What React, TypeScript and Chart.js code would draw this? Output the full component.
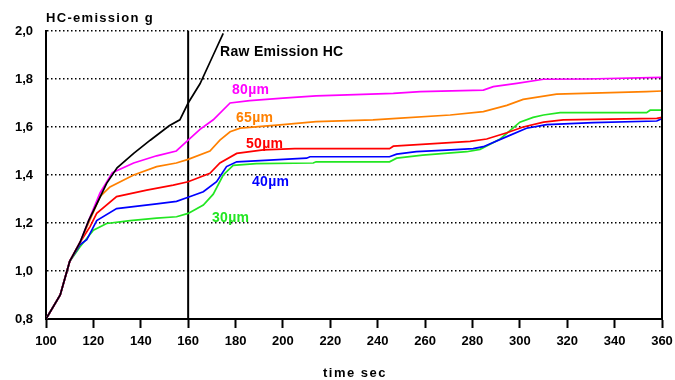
import React, { useEffect, useRef } from "react";
import { Chart, registerables } from "chart.js";

Chart.register(...registerables);

const rawX = [100, 106, 110, 114.4, 118, 120, 125.6, 130, 137, 144, 152, 156.5, 160, 165, 170.6, 174.8];
const rawY = [0.8, 0.9, 1.04, 1.12, 1.21, 1.25, 1.365, 1.43, 1.49, 1.545, 1.605, 1.63, 1.7, 1.78, 1.9, 1.99];

const m80X = [100, 106, 110, 114.4, 118, 122.8, 128, 137, 146.7, 155, 160, 165, 170.6, 177.7, 186, 200, 214, 224, 246.6, 258, 284.6, 288.8, 298.7, 310, 328, 360];
const m80Y = [0.8, 0.9, 1.04, 1.12, 1.21, 1.325, 1.41, 1.45, 1.48, 1.5, 1.545, 1.59, 1.63, 1.7, 1.71, 1.72, 1.73, 1.733, 1.74, 1.747, 1.754, 1.768, 1.782, 1.799, 1.8, 1.807];

const m65X = [100, 106, 110, 114.4, 118, 122.8, 127, 137, 146.7, 155, 160, 169.2, 173.4, 177.7, 182, 200, 214, 238, 248, 270.6, 284.6, 294.5, 301.4, 315.5, 353.5, 360];
const m65Y = [0.8, 0.9, 1.04, 1.12, 1.2, 1.31, 1.35, 1.4, 1.435, 1.45, 1.465, 1.5, 1.545, 1.58, 1.595, 1.61, 1.622, 1.63, 1.636, 1.65, 1.664, 1.69, 1.715, 1.737, 1.747, 1.75];

const m50X = [100, 106, 110, 114.4, 118.6, 121.4, 129.8, 142.5, 153.7, 160, 169.2, 173.4, 180.5, 191.7, 205, 224, 245, 246.6, 262, 279, 286, 294.5, 301.4, 310, 318.3, 357.8, 360];
const m50Y = [0.8, 0.9, 1.04, 1.12, 1.185, 1.24, 1.31, 1.337, 1.358, 1.372, 1.407, 1.45, 1.49, 1.505, 1.51, 1.51, 1.51, 1.52, 1.53, 1.54, 1.55, 1.576, 1.6, 1.62, 1.63, 1.636, 1.64];

const m40X = [100, 106, 110, 114.4, 117.2, 121.4, 129.8, 146.7, 155.1, 160, 166.4, 172, 176.2, 180.5, 210, 211.4, 245, 248, 256.3, 269, 280.3, 284.6, 294.5, 302.8, 311.3, 331, 357.8, 360];
const m40Y = [0.8, 0.9, 1.04, 1.11, 1.13, 1.21, 1.26, 1.28, 1.29, 1.307, 1.33, 1.372, 1.435, 1.455, 1.47, 1.476, 1.476, 1.487, 1.497, 1.504, 1.51, 1.518, 1.56, 1.595, 1.61, 1.618, 1.625, 1.635];

const m30X = [100, 106, 110, 114.3, 120, 125.6, 135.5, 146.7, 155.1, 160, 166.4, 170.6, 174.8, 179, 188.8, 212.8, 214, 245, 248, 259, 277.6, 283.2, 291.7, 300, 305.6, 310, 317, 353.5, 355, 360];
const m30Y = [0.8, 0.9, 1.04, 1.1, 1.17, 1.198, 1.21, 1.22, 1.226, 1.24, 1.275, 1.32, 1.4, 1.44, 1.447, 1.45, 1.455, 1.455, 1.47, 1.483, 1.497, 1.507, 1.55, 1.62, 1.64, 1.65, 1.66, 1.66, 1.67, 1.67];

const markerX = [160, 160];
const markerY = [0.8, 2.0];

const seriesNames = ["Raw Emission HC", "80µm", "65µm", "50µm", "40µm", "30µm"];
const seriesColors = ["#000000", "#FF00FF", "#FF8000", "#FF0000", "#0000FF", "#22E622"];
const labelPos = [
  [220, 56],
  [232, 94],
  [236, 122],
  [246, 148],
  [252, 186],
  [212, 222],
];

const yTitle = "HC-emission g";
const xTitle = "time sec";

const pts = (xs: number[], ys: number[]) => xs.map((x, i) => ({ x, y: ys[i] }));

const FONT = "'Liberation Sans', Arial, sans-serif";

export default function App() {
  const ref = useRef<HTMLCanvasElement | null>(null);
  useEffect(() => {
    document.body.style.margin = "0";
    const allX = [rawX, m80X, m65X, m50X, m40X, m30X];
    const allY = [rawY, m80Y, m65Y, m50Y, m40Y, m30Y];
    const datasets: any[] = allX.map((xs, i) => ({
      label: seriesNames[i],
      data: pts(xs, allY[i]),
      borderColor: seriesColors[i],
      borderWidth: 1.7,
      pointRadius: 0,
      tension: 0,
      fill: false,
    }));
    datasets.push({
      label: "marker",
      data: pts(markerX, markerY),
      borderColor: "#000000",
      borderWidth: 2,
      pointRadius: 0,
      fill: false,
    });

    const overlay = {
      id: "overlay",
      afterDraw(chart: any) {
        const { ctx, chartArea } = chart;
        ctx.save();
        ctx.strokeStyle = "#000";
        ctx.lineWidth = 2;
        ctx.beginPath();
        ctx.moveTo(chartArea.right, chartArea.top);
        ctx.lineTo(chartArea.right, chartArea.bottom);
        ctx.stroke();
        ctx.textBaseline = "alphabetic";
        ctx.textAlign = "left";
        ctx.font = `bold 14px ${FONT}`;
        (ctx as any).letterSpacing = "0.3px";
        seriesNames.forEach((n, i) => {
          ctx.fillStyle = seriesColors[i];
          ctx.fillText(n, labelPos[i][0], labelPos[i][1]);
        });
        ctx.fillStyle = "#000";
        ctx.font = `bold 13px ${FONT}`;
        (ctx as any).letterSpacing = "1.3px";
        ctx.fillText(yTitle, 46, 22);
        (ctx as any).letterSpacing = "1.5px";
        ctx.textAlign = "center";
        ctx.fillText(xTitle, 355, 377);
        (ctx as any).letterSpacing = "0px";
        ctx.restore();
      },
    };

    const chart = new Chart(ref.current as HTMLCanvasElement, {
      type: "line",
      data: { datasets },
      options: {
        animation: false,
        responsive: false,
        maintainAspectRatio: false,
        layout: { padding: { top: 31, right: 13, left: 0, bottom: 0 } },
        plugins: { legend: { display: false }, tooltip: { enabled: false } },
        scales: {
          x: {
            type: "linear",
            min: 100,
            max: 360,
            afterFit: (s: any) => {
              s.height = 61;
              s.paddingLeft = 0;
              s.paddingRight = 0;
            },
            ticks: {
              stepSize: 20,
              color: "#000",
              font: { family: FONT, size: 13, weight: "bold" },
              padding: 6,
              maxRotation: 0,
            },
            grid: {
              drawOnChartArea: false,
              drawTicks: true,
              tickLength: 9,
              tickColor: "#000",
              tickWidth: 2,
            },
            border: { display: true, color: "#000", width: 2 },
          },
          y: {
            min: 0.8,
            max: 2.0,
            afterFit: (s: any) => {
              s.width = 46;
              s.paddingTop = 0;
              s.paddingBottom = 0;
            },
            ticks: {
              stepSize: 0.2,
              color: "#000",
              font: { family: FONT, size: 13, weight: "bold" },
              padding: 13,
              callback: (v: any) => Number(v).toFixed(1).replace(".", ","),
            },
            grid: {
              drawTicks: false,
              color: "#000",
              lineWidth: 1.5,
            },
            border: { display: true, color: "#000", width: 2, dash: [1.5, 2.5] },
          },
        },
      },
      plugins: [overlay],
    });
    return () => chart.destroy();
  }, []);
  return (
    <div style={{ position: "relative", width: 675, height: 380 }}>
      <canvas ref={ref} width={675} height={380} style={{ width: 675, height: 380 }} />
    </div>
  );
}
